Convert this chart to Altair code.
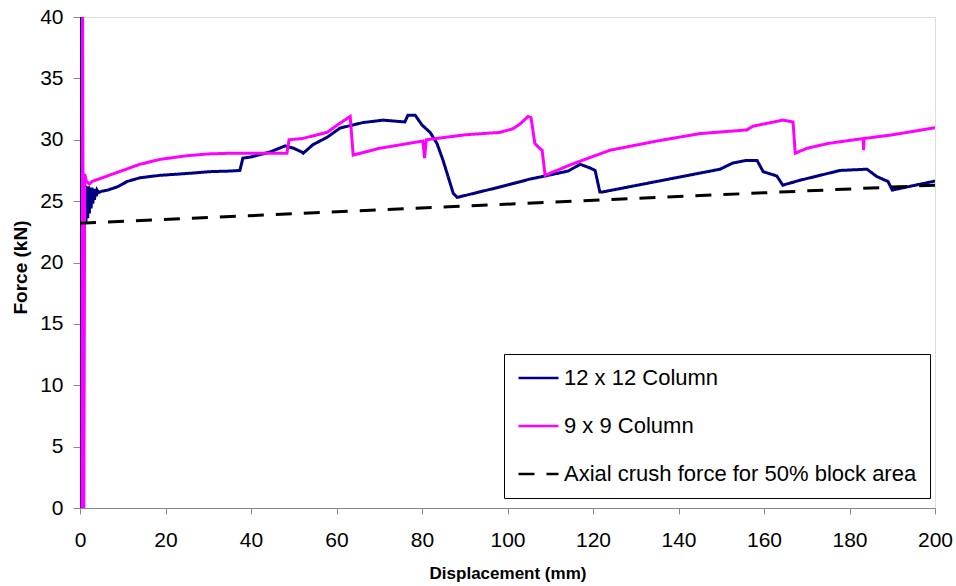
import altair as alt
import pandas as pd

# ---- data ----
names = ["12 x 12 Column", "9 x 9 Column", "Axial crush force for 50% block area"]
colors = ["#000080", "#FF00FF", "#000000"]
dashes = [[1, 0], [1, 0], [16, 12]]

col12_x = [0.15, 0.25, 0.5, 0.8, 1.0, 1.2, 1.4, 1.6, 1.8, 2.0, 2.2, 2.4, 2.6, 2.8, 3.0, 3.2, 3.4,
           3.6, 3.8, 4.0, 4.4, 5.0, 6.5, 9.0, 11.0, 14.0, 18.7, 25.0, 30.4, 35.1, 37.4, 38.1,
           40.0, 44.4, 48.0, 50.0, 51.9, 52.2, 54.5, 57.8, 60.8, 66.2, 70.9, 76.0, 76.7, 78.4,
           80.0, 81.9, 83.5, 84.9, 86.1, 87.3, 88.2, 98.2, 105.3, 108.8, 114.2, 117.0, 119.3,
           120.5, 121.6, 122.3, 149.7, 152.7, 155.6, 158.4, 159.8, 163.0, 164.4, 168.4, 177.8,
           184.1, 186.4, 189.0, 190.0, 199.5, 200.0]
col12_y = [0.0, 41.0, 23.0, 26.3, 23.0, 26.3, 23.3, 26.2, 23.6, 26.2, 24.0, 26.1, 24.4, 26.1, 24.8,
           26.0, 25.1, 26.0, 25.4, 25.9, 25.7, 25.8, 25.9, 26.2, 26.6, 26.9, 27.1, 27.25, 27.4,
           27.45, 27.5, 28.5, 28.6, 29.0, 29.5, 29.3, 29.0, 28.9, 29.6, 30.2, 30.95, 31.4, 31.6,
           31.45, 32.0, 32.0, 31.2, 30.6, 29.7, 28.35, 27.0, 25.65, 25.3, 26.15, 26.8, 27.05,
           27.45, 28.0, 27.7, 27.5, 25.75, 25.75, 27.6, 28.1, 28.3, 28.3, 27.4, 27.05, 26.3,
           26.7, 27.5, 27.6, 27.0, 26.6, 25.9, 26.6, 26.65]

col9_x = [0.5, 0.6, 0.9, 1.1, 1.5, 2.2, 2.8, 6.0, 10.0, 14.0, 18.7, 25.0, 30.4, 35.1, 48.4, 48.9,
          52.0, 57.8, 60.8, 61.5, 63.2, 63.9, 70.0, 80.2, 80.6, 81.0, 90.0, 98.2, 101.3, 103.0,
          104.8, 105.5, 106.4, 107.5, 108.1, 108.8, 115.0, 124.0, 135.0, 145.0, 156.0, 157.4,
          164.4, 166.8, 167.3, 170.0, 175.0, 183.2, 183.3, 183.4, 190.0, 199.5, 200.0]
col9_y = [0.0, 41.0, 0.0, 27.2, 26.6, 26.4, 26.6, 27.0, 27.5, 28.0, 28.4, 28.7, 28.85, 28.9, 28.9,
          30.0, 30.1, 30.6, 31.35, 31.5, 31.9, 28.75, 29.3, 29.9, 28.5, 30.0, 30.4, 30.6, 30.9,
          31.3, 31.9, 31.8, 29.7, 29.3, 29.15, 27.1, 28.0, 29.15, 29.9, 30.5, 30.8, 31.1, 31.6,
          31.45, 28.9, 29.3, 29.7, 30.1, 29.15, 30.1, 30.4, 30.95, 31.0]

crush_x = [0.0, 200.0]
crush_y = [23.2, 26.3]

x_ticks = [0, 20, 40, 60, 80, 100, 120, 140, 160, 180, 200]
y_ticks = [0, 5, 10, 15, 20, 25, 30, 35, 40]

rows = []
for name, xs, ys in zip(names, [col12_x, col9_x, crush_x], [col12_y, col9_y, crush_y]):
    for i, (xv, yv) in enumerate(zip(xs, ys)):
        rows.append({"series": name, "x": xv, "y": yv, "i": i})
df = pd.DataFrame(rows)

FONT = "Liberation Sans"

legend = alt.Legend(
    title=None,
    orient="none",
    legendX=424,
    legendY=337,
    direction="vertical",
    strokeColor="#000000",
    fillColor="#ffffff",
    padding=13,
    rowPadding=26,
    clipHeight=22,
    symbolType="stroke",
    symbolSize=1600,
    symbolStrokeWidth=2.5,
    labelFontSize=22,
    labelFont=FONT,
    labelColor="#000000",
    labelOffset=4,
    labelLimit=400,
)

chart = alt.Chart(df).mark_line(strokeWidth=3, clip=True).encode(
    x=alt.X("x:Q",
            scale=alt.Scale(domain=[0, 200], nice=False, zero=False),
            axis=alt.Axis(values=x_ticks, title="Displacement (mm)", grid=False,
                          tickSize=6, labelPadding=15, titlePadding=15, labelFlush=False,
                          labelFontSize=21, titleFontSize=17, titleFontWeight="bold")),
    y=alt.Y("y:Q",
            scale=alt.Scale(domain=[0, 40], nice=False, zero=False),
            axis=alt.Axis(values=y_ticks, title="Force (kN)", grid=False,
                          tickSize=7, labelPadding=10, titlePadding=9, titleY=250,
                          labelFontSize=21, titleFontSize=19, titleFontWeight="bold")),
    color=alt.Color("series:N", scale=alt.Scale(domain=names, range=colors), legend=legend),
    strokeDash=alt.StrokeDash("series:N", scale=alt.Scale(domain=names, range=dashes), legend=legend),
    order=alt.Order("i:Q"),
).properties(
    width=855,
    height=491,
    autosize=alt.AutoSizeParams(type="none"),
    padding={"left": 80, "top": 17, "right": 21, "bottom": 78},
).configure_axis(
    labelFont=FONT,
    titleFont=FONT,
    labelColor="#000000",
    titleColor="#000000",
    domainColor="#555555",
    domainWidth=1.5,
    tickColor="#333333",
    tickWidth=1,
).configure_view(
    stroke="#999999",
    strokeWidth=2,
).configure(background="#ffffff")

chart.save("out.html", embed_options={"renderer": "svg", "actions": False})
